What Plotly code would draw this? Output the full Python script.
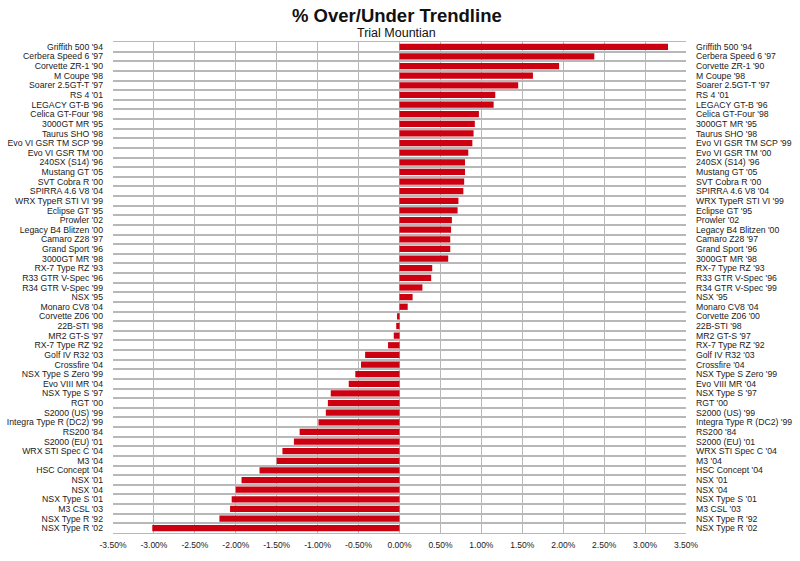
import plotly.graph_objects as go

cars = [
    "Griffith 500 '94", "Cerbera Speed 6 '97", "Corvette ZR-1 '90", "M Coupe '98",
    "Soarer 2.5GT-T '97", "RS 4 '01", "LEGACY GT-B '96", "Celica GT-Four '98",
    "3000GT MR '95", "Taurus SHO '98", "Evo VI GSR TM SCP '99", "Evo VI GSR TM '00",
    "240SX (S14) '96", "Mustang GT '05", "SVT Cobra R '00", "SPIRRA 4.6 V8 '04",
    "WRX TypeR STI VI '99", "Eclipse GT '95", "Prowler '02", "Legacy B4 Blitzen '00",
    "Camaro Z28 '97", "Grand Sport '96", "3000GT MR '98", "RX-7 Type RZ '93",
    "R33 GTR V-Spec '96", "R34 GTR V-Spec '99", "NSX '95", "Monaro CV8 '04",
    "Corvette Z06 '00", "22B-STI '98", "MR2 GT-S '97", "RX-7 Type RZ '92",
    "Golf IV R32 '03", "Crossfire '04", "NSX Type S Zero '99", "Evo VIII MR '04",
    "NSX Type S '97", "RGT '00", "S2000 (US) '99", "Integra Type R (DC2) '99",
    "RS200 '84", "S2000 (EU) '01", "WRX STI Spec C '04", "M3 '04",
    "HSC Concept '04", "NSX '01", "NSX '04", "NSX Type S '01",
    "M3 CSL '03", "NSX Type R '92", "NSX Type R '02",
]

pct_over_under = [
    3.28, 2.38, 1.95, 1.63,
    1.45, 1.17, 1.15, 0.97,
    0.92, 0.905, 0.89, 0.84,
    0.80, 0.80, 0.79, 0.78,
    0.72, 0.71, 0.64, 0.63,
    0.62, 0.62, 0.595, 0.40,
    0.387, 0.28, 0.16, 0.10,
    -0.03, -0.04, -0.07, -0.14,
    -0.42, -0.47, -0.54, -0.62,
    -0.84, -0.875, -0.90, -0.99,
    -1.22, -1.29, -1.43, -1.50,
    -1.71, -1.93, -2.00, -2.05,
    -2.07, -2.20, -3.02,
]

x_tick_vals = [-3.5, -3.0, -2.5, -2.0, -1.5, -1.0, -0.5, 0.0, 0.5, 1.0, 1.5, 2.0, 2.5, 3.0, 3.5]
x_tick_text = ["-3.50%", "-3.00%", "-2.50%", "-2.00%", "-1.50%", "-1.00%", "-0.50%", "0.00%",
               "0.50%", "1.00%", "1.50%", "2.00%", "2.50%", "3.00%", "3.50%"]

title_text = "% Over/Under Trendline"
subtitle_text = "Trial Mountian"

BAR_COLOR = "#cc0010"
GRID = "#b8b8b8"
FONT = "Arial, Liberation Sans, sans-serif"

fig = go.Figure()
fig.add_trace(go.Bar(
    x=pct_over_under, y=cars, orientation="h",
    marker=dict(color=BAR_COLOR, line=dict(width=0)),
    showlegend=False,
))
fig.add_trace(go.Bar(
    x=pct_over_under, y=cars, orientation="h", yaxis="y2",
    marker=dict(color="rgba(0,0,0,0)", line=dict(width=0)),
    showlegend=False, hoverinfo="skip",
))

yaxis_common = dict(
    type="category",
    categoryorder="array", categoryarray=cars,
    tickmode="array", tickvals=cars, ticktext=cars,
    autorange="reversed",
    tickson="boundaries",
    automargin=False,
    showgrid=True, gridcolor=GRID, gridwidth=1.5,
    ticks="", ticklabelstandoff=9,
    tickfont=dict(family=FONT, size=8.7, color="#1a1a1a"),
    showline=False,
)

fig.update_layout(
    width=800, height=561,
    paper_bgcolor="white", plot_bgcolor="white",
    margin=dict(l=113, r=114, t=42, b=28, autoexpand=False),
    bargap=0.35,
    font=dict(family=FONT, color="#1a1a1a"),
    xaxis=dict(
        range=[-3.5, 3.5],
        tickvals=x_tick_vals, ticktext=x_tick_text,
        automargin=False,
        showgrid=True, gridcolor=GRID, gridwidth=1,
        zeroline=False,
        showline=True, linecolor=GRID, linewidth=1, mirror=True,
        ticks="outside", ticklen=4, tickcolor="rgba(0,0,0,0)",
        tickfont=dict(family=FONT, size=8.5, color="#1a1a1a"),
    ),
    yaxis=dict(side="left", **yaxis_common),
    yaxis2=dict(side="right", overlaying="y", matches="y", **yaxis_common),
    annotations=[
        dict(text="<b>" + title_text + "</b>", xref="paper", yref="paper",
             x=0.495, y=1.053, xanchor="center", yanchor="middle", showarrow=False,
             font=dict(family=FONT, size=18.5, color="#111")),
        dict(text=subtitle_text, xref="paper", yref="paper",
             x=0.495, y=1.019, xanchor="center", yanchor="middle", showarrow=False,
             font=dict(family=FONT, size=12.5, color="#111")),
    ],
)

fig.write_html("out.html", config={"displayModeBar": False},
               post_script="document.body.style.margin='0px';")
